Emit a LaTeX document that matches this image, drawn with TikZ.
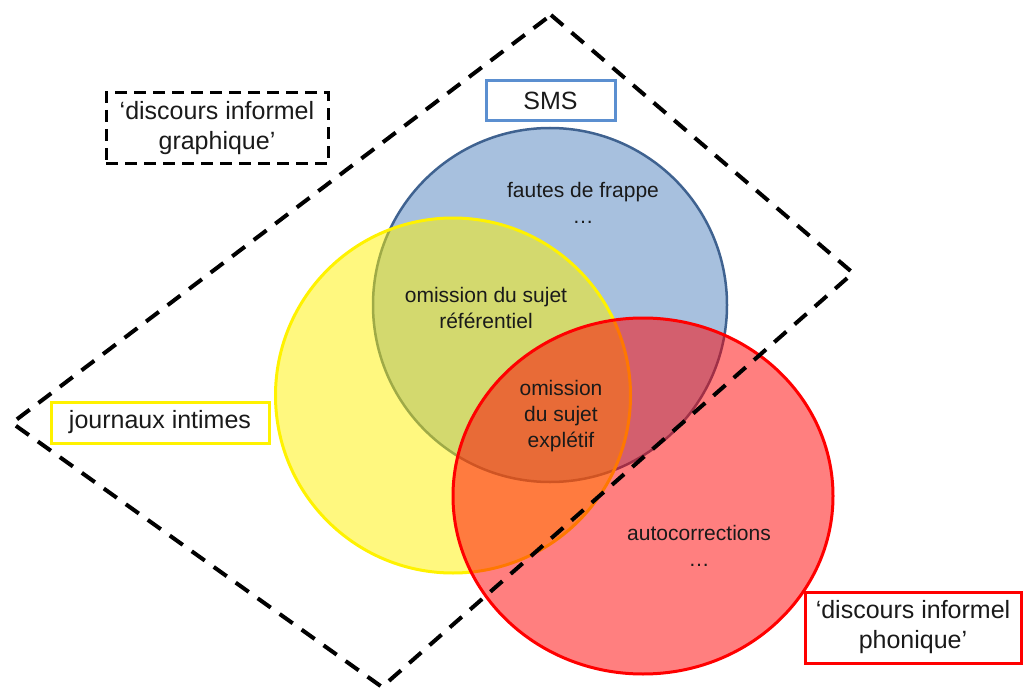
\documentclass[tikz,border=0pt]{standalone}
\usepackage{fontspec}
\setmainfont{Liberation Sans}
\usetikzlibrary{shapes.geometric}
\definecolor{blueFill}{HTML}{4F81BD}
\definecolor{blueLine}{HTML}{3F6290}
\definecolor{smsLine}{HTML}{5B8FD0}
\definecolor{txt}{HTML}{1A1A1A}
\tikzset{
  setcircle/.style={fill opacity=0.5, draw opacity=1, inner sep=0pt, outer sep=0pt},
  inlabel/.style={align=center, text=txt, font=\fontsize{21}{26}\selectfont, inner sep=0pt},
  boxlabel/.style={align=center, text=txt, font=\fontsize{25}{30}\selectfont, line width=3pt, inner sep=0pt},
  bigdash/.style={line width=4pt, dash pattern=on 16pt off 11pt, line join=miter, black},
}
\begin{document}
\begin{tikzpicture}[x=1pt, y=-1pt]
\useasboundingbox (0,0) rectangle (1023,690);
% circles
\node[setcircle, circle, minimum size=354pt, fill=blueFill, draw=blueLine, line width=2.5pt] (sms) at (550,305) {};
\node[setcircle, circle, minimum size=355pt, fill=yellow, draw=yellow, line width=3pt] (journ) at (453,395.5) {};
\node[setcircle, ellipse, minimum width=380pt, minimum height=356pt, fill=red, draw=red, line width=3pt] (phon) at (643,496) {};
% labels inside circles
\node[inlabel] (fautes) at (583,203) {fautes de frappe\\…};
\node[inlabel] (ref) at (486,308) {omission du sujet\\référentiel};
\node[inlabel] (expl) at (561,416) {omission\\du sujet\\explétif};
\node[inlabel] (autoc) at (699,546) {autocorrections\\…};
% dashed quadrilateral
\coordinate (qt) at (551,15);
\coordinate (qr) at (853,273);
\coordinate (qb) at (382,687);
\coordinate (ql) at (12,423);
\draw[bigdash] (qt) -- (qr) -- (qb) -- (ql) -- cycle;
% boxes
\node[boxlabel, draw=black, dash pattern=on 12pt off 7pt, minimum width=222pt, minimum height=71pt] (graph) at (217,128.5) {‘discours informel\\graphique’};
\node[boxlabel, draw=smsLine, minimum width=129pt, minimum height=40pt] (smsbox) at (550.5,101) {SMS};
\node[boxlabel, draw=yellow, minimum width=218pt, minimum height=41pt] (jbox) at (160,422.5) {journaux intimes};
\node[boxlabel, draw=red, fill=white, minimum width=216pt, minimum height=71pt] (pbox) at (913,627.5) {‘discours informel\\phonique’};
\end{tikzpicture}
\end{document}
